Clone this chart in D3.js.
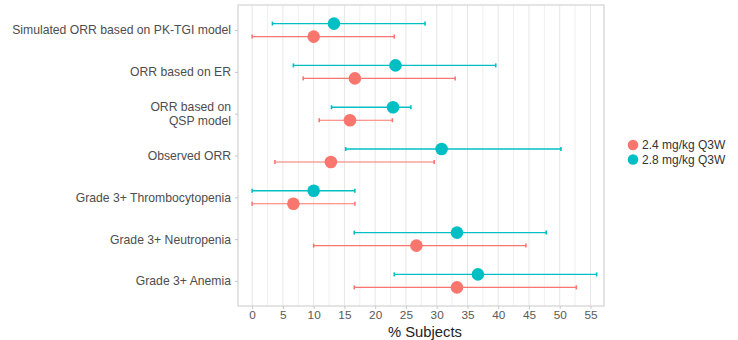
<!DOCTYPE html>
<html>
<head>
<meta charset="utf-8">
<script src="https://cdn.jsdelivr.net/npm/d3@7"></script>
<style>
  body { margin: 0; background: #fff; }
  svg { font-family: "Liberation Sans", Arial, sans-serif; }
</style>
</head>
<body>
<div id="chart"></div>
<script>
(function () {
    "use strict";

    // categories top to bottom
    var categories = [
        "Simulated ORR based on PK-TGI model",
        "ORR based on ER",
        "ORR based on\nQSP model",
        "Observed ORR",
        "Grade 3+ Thrombocytopenia",
        "Grade 3+ Neutropenia",
        "Grade 3+ Anemia"
    ];
    var doses = ["2.4 mg/kg Q3W", "2.8 mg/kg Q3W"];

    // point estimate and interval per dose, same order as categories
    var low24  = [0,    8.3, 10.9, 3.7,  0,    10.0, 16.6];
    var mid24  = [10.0, 16.7, 15.9, 12.8, 6.7, 26.7, 33.3];
    var high24 = [23.1, 33.0, 22.8, 29.6, 16.7, 44.5, 52.7];

    var low28  = [3.3,  6.7, 12.9, 15.2, 0,    16.6, 23.1];
    var mid28  = [13.3, 23.3, 22.9, 30.8, 10.0, 33.3, 36.7];
    var high28 = [28.1, 39.6, 25.8, 50.2, 16.7, 47.8, 56.0];

    var xTicks = [0, 5, 10, 15, 20, 25, 30, 35, 40, 45, 50, 55];

    var colors = ["#F8766D", "#00BFC4"];

    var W = 738, H = 340;
    var left = 238, right = 604, top = 5, bottom = 306;

    var svg = d3.select("#chart").append("svg")
        .attr("width", W)
        .attr("height", H);

    var x = d3.scaleLinear().domain([-2.3, 57.2]).range([left, right]);
    var y = d3.scalePoint().domain(categories).range([top, bottom]).padding(0.6);

    // build rows
    var rows = [];
    categories.forEach(function (c, i) {
        rows.push({ cat: c, dose: 0, lo: low24[i], mid: mid24[i], hi: high24[i] });
        rows.push({ cat: c, dose: 1, lo: low28[i], mid: mid28[i], hi: high28[i] });
    });
    var dodge = [6.5, -6.5];

    // grid, major and minor
    var grid = svg.append("g");
    d3.range(0, 57.5, 2.5).forEach(function (v) {
        grid.append("line")
            .attr("x1", x(v)).attr("x2", x(v))
            .attr("y1", top).attr("y2", bottom)
            .attr("stroke", v % 5 === 0 ? "#e6e6e6" : "#f0f0f0")
            .attr("stroke-width", 1);
    });

    // panel border
    svg.append("rect")
        .attr("x", left).attr("y", top)
        .attr("width", right - left).attr("height", bottom - top)
        .attr("fill", "none")
        .attr("stroke", "#d6d6d6")
        .attr("stroke-width", 1.3);

    // x axis
    var xAxis = svg.append("g")
        .attr("transform", "translate(0," + bottom + ")")
        .call(d3.axisBottom(x).tickValues(xTicks).tickSize(3).tickPadding(2));
    xAxis.select(".domain").remove();
    xAxis.selectAll("line").attr("stroke", "#c8c8c8");
    xAxis.selectAll("text").attr("fill", "#5a5a5a").style("font-size", "11.8px");

    // y axis
    var yAxis = svg.append("g")
        .attr("transform", "translate(" + left + ",0)")
        .call(d3.axisLeft(y).tickSize(3).tickPadding(4));
    yAxis.select(".domain").remove();
    yAxis.selectAll("line").attr("stroke", "#c8c8c8");
    yAxis.selectAll("text").each(function (d) {
        var t = d3.select(this);
        var parts = d.split("\n");
        t.text(null).attr("fill", "#4d4d4d").style("font-size", "12.2px");
        parts.forEach(function (p, k) {
            t.append("tspan")
                .attr("x", -7)
                .attr("dy", k === 0 ? (parts.length > 1 ? "-0.25em" : "0.32em") : "1.15em")
                .text(p);
        });
    });

    // error bars
    var bars = svg.append("g");
    rows.forEach(function (r) {
        var cy = y(r.cat) + dodge[r.dose];
        var sw = r.dose === 1 ? 1.4 : 1.1;
        bars.append("line")
            .attr("x1", x(r.lo)).attr("x2", x(r.hi))
            .attr("y1", cy).attr("y2", cy)
            .attr("stroke", colors[r.dose]).attr("stroke-width", sw);
        [r.lo, r.hi].forEach(function (v) {
            bars.append("line")
                .attr("x1", x(v)).attr("x2", x(v))
                .attr("y1", cy - 2).attr("y2", cy + 2)
                .attr("stroke", colors[r.dose]).attr("stroke-width", 1.6);
        });
    });

    // points
    svg.append("g").selectAll("circle")
        .data(rows)
        .enter()
        .append("circle")
        .attr("cx", function (d) { return x(d.mid); })
        .attr("cy", function (d) { return y(d.cat) + dodge[d.dose]; })
        .attr("r", 6.3)
        .attr("fill", function (d) { return colors[d.dose]; });

    // axis title
    svg.append("text")
        .attr("x", 425)
        .attr("y", 336.5)
        .attr("text-anchor", "middle")
        .attr("fill", "#222")
        .style("font-size", "14.8px")
        .text("% Subjects");

    // legend
    var legend = svg.append("g");
    doses.forEach(function (d, i) {
        var ly = 145 + i * 14.5;
        legend.append("circle")
            .attr("cx", 633).attr("cy", ly)
            .attr("r", 5.3)
            .attr("fill", colors[i]);
        legend.append("text")
            .attr("x", 642).attr("y", ly)
            .attr("dy", "0.35em")
            .attr("fill", "#333")
            .style("font-size", "12px")
            .text(d);
    });
})();
</script>
</body>
</html>
